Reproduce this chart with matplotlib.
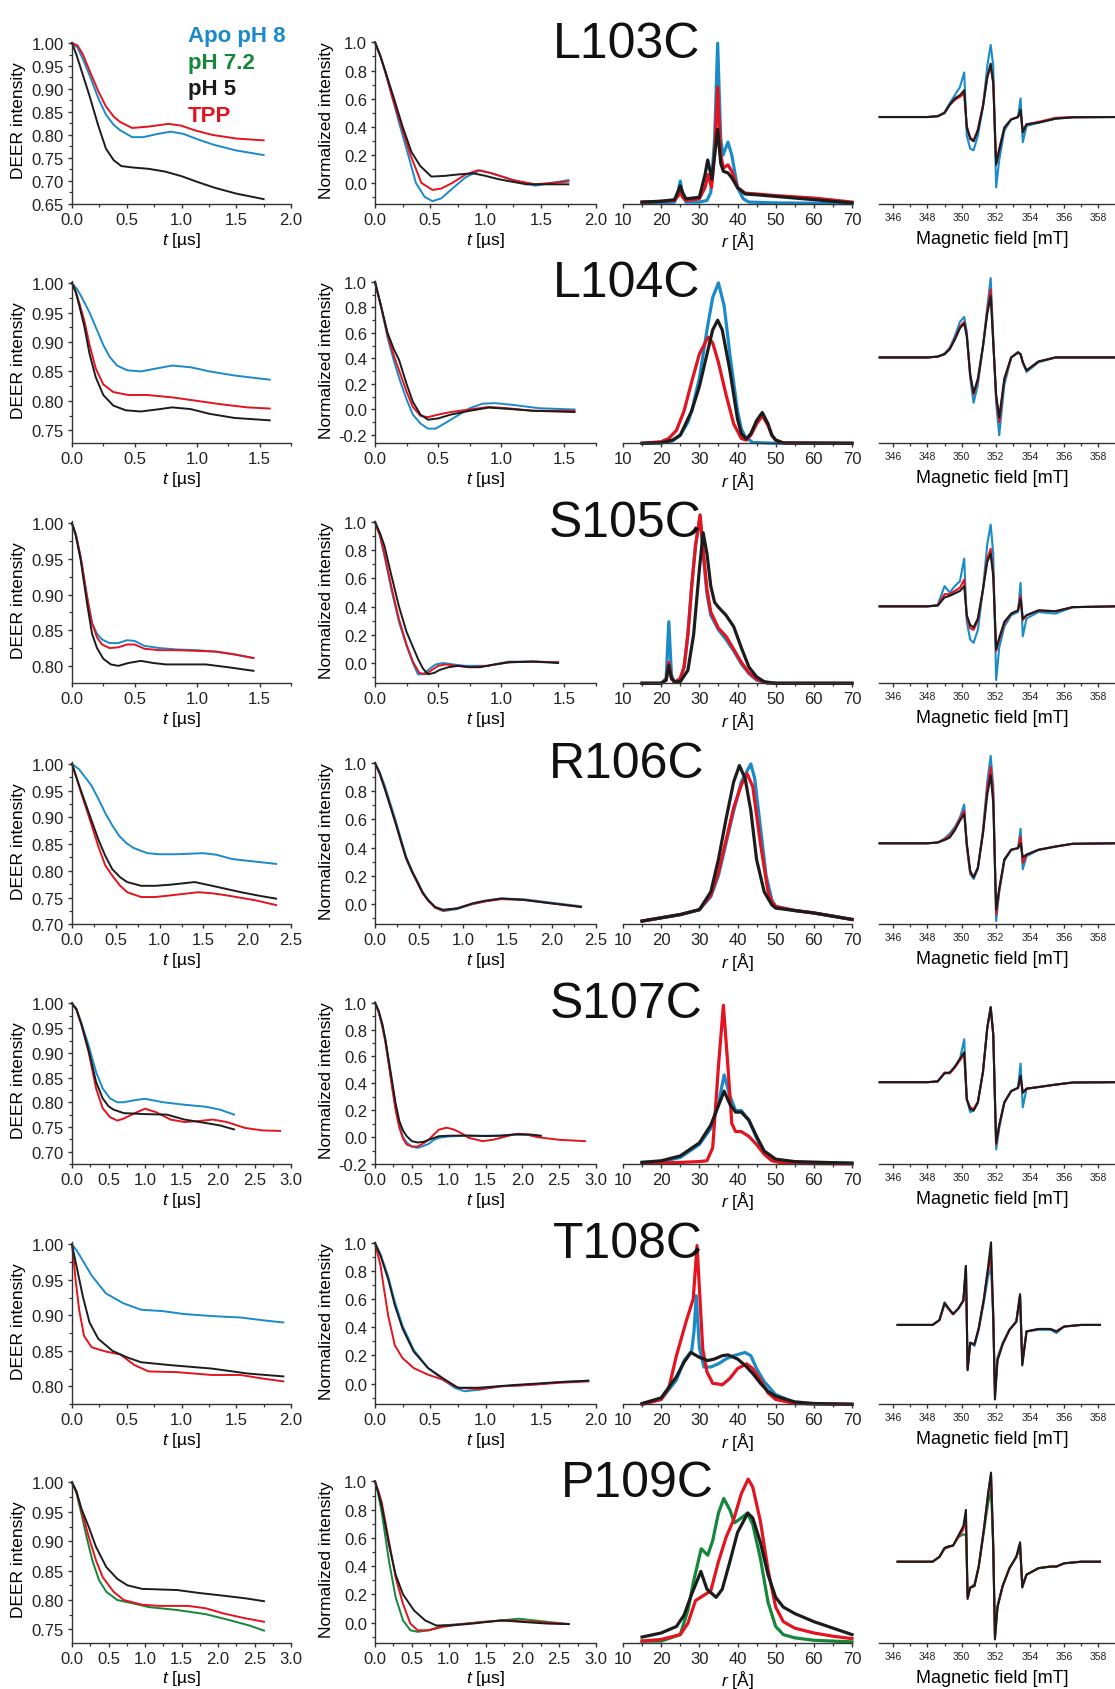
import matplotlib
matplotlib.use('Agg')
import matplotlib.pyplot as plt
from matplotlib.ticker import MultipleLocator, FormatStrFormatter

plt.rcParams['font.family'] = 'Liberation Sans'
plt.rcParams['mathtext.fontset'] = 'custom'
plt.rcParams['mathtext.rm'] = 'Liberation Sans'
plt.rcParams['mathtext.it'] = 'Liberation Sans:italic'
plt.rcParams['axes.unicode_minus'] = False

W, H = 1115, 1690
colors = {'apo': '#1a8bc8', 'ph72': '#14873a', 'ph5': '#1c1c1c', 'tpp': '#e3141f'}
draw_order = ['apo', 'ph72', 'tpp', 'ph5']

mutants = ['L103C', 'L104C', 'S105C', 'R106C', 'S107C', 'T108C', 'P109C']
title_left = [553, 553, 549, 549, 550, 553, 561]
row_tops = [42.7, 282.3, 522.3, 763.3, 1003.0, 1243.3, 1481.7]
t_max = [2.0, 1.75, 1.75, 2.5, 3.0, 2.0, 3.0]
deer_ymin = [0.65, 0.728, 0.7755, 0.70, 0.675, 0.7747, 0.7274]
norm_ymin = [-0.148, -0.265, -0.144, -0.143, -0.2, -0.148, -0.142]

# ---- primary DEER traces (t [us], intensity)
deer_l103c = {
    'apo': [(0, 1), (0.05, 0.99), (0.1, 0.965), (0.16, 0.93), (0.24, 0.88), (0.31, 0.844), (0.38, 0.822),
            (0.44, 0.81), (0.55, 0.795), (0.65, 0.795), (0.78, 0.802), (0.9, 0.807), (1.02, 0.802),
            (1.15, 0.79), (1.3, 0.778), (1.5, 0.766), (1.75, 0.756)],
    'tpp': [(0, 1), (0.05, 0.995), (0.1, 0.975), (0.16, 0.94), (0.24, 0.895), (0.31, 0.862), (0.38, 0.84),
            (0.44, 0.828), (0.55, 0.815), (0.7, 0.818), (0.88, 0.824), (1.0, 0.82), (1.12, 0.81),
            (1.28, 0.80), (1.5, 0.792), (1.75, 0.788)],
    'ph5': [(0, 1), (0.04, 0.975), (0.08, 0.945), (0.16, 0.885), (0.24, 0.82), (0.31, 0.77), (0.38, 0.745),
            (0.45, 0.732), (0.55, 0.729), (0.7, 0.726), (0.85, 0.72), (1.0, 0.71), (1.15, 0.697),
            (1.3, 0.685), (1.5, 0.672), (1.75, 0.66)],
}
deer_l104c = {
    'apo': [(0, 1), (0.04, 0.99), (0.08, 0.975), (0.14, 0.95), (0.2, 0.92), (0.25, 0.895), (0.3, 0.875),
            (0.36, 0.86), (0.44, 0.852), (0.55, 0.85), (0.7, 0.856), (0.8, 0.86), (0.95, 0.857),
            (1.1, 0.85), (1.3, 0.843), (1.58, 0.836)],
    'tpp': [(0, 1), (0.03, 0.985), (0.06, 0.965), (0.1, 0.935), (0.14, 0.895), (0.19, 0.855), (0.25, 0.828),
            (0.33, 0.815), (0.45, 0.81), (0.6, 0.81), (0.8, 0.806), (1.0, 0.80), (1.2, 0.794),
            (1.4, 0.789), (1.58, 0.787)],
    'ph5': [(0, 1), (0.03, 0.985), (0.06, 0.96), (0.1, 0.925), (0.14, 0.88), (0.19, 0.84), (0.25, 0.81),
            (0.33, 0.792), (0.43, 0.784), (0.55, 0.782), (0.7, 0.786), (0.8, 0.789), (0.95, 0.786),
            (1.1, 0.778), (1.3, 0.771), (1.58, 0.767)],
}
deer_s105c = {
    'apo': [(0, 1), (0.03, 0.985), (0.07, 0.952), (0.12, 0.897), (0.16, 0.86), (0.2, 0.845), (0.24, 0.837),
            (0.3, 0.832), (0.37, 0.832), (0.44, 0.836), (0.5, 0.835), (0.58, 0.828), (0.7, 0.825),
            (0.84, 0.823), (1.0, 0.822), (1.15, 0.82), (1.3, 0.816), (1.45, 0.811)],
    'tpp': [(0, 1), (0.03, 0.985), (0.07, 0.952), (0.12, 0.897), (0.16, 0.86), (0.2, 0.84), (0.24, 0.83),
            (0.3, 0.825), (0.37, 0.826), (0.44, 0.83), (0.5, 0.83), (0.58, 0.824), (0.7, 0.822),
            (0.84, 0.822), (1.0, 0.821), (1.15, 0.82), (1.3, 0.816), (1.45, 0.811)],
    'ph5': [(0, 1), (0.03, 0.983), (0.07, 0.948), (0.12, 0.888), (0.16, 0.845), (0.2, 0.825), (0.25, 0.81),
            (0.31, 0.802), (0.37, 0.80), (0.45, 0.804), (0.55, 0.807), (0.65, 0.804), (0.75, 0.802),
            (0.9, 0.802), (1.07, 0.802), (1.25, 0.798), (1.45, 0.793)],
}
deer_r106c = {
    'apo': [(0, 1), (0.08, 0.99), (0.15, 0.975), (0.22, 0.96), (0.3, 0.935), (0.38, 0.908), (0.46, 0.885),
            (0.54, 0.865), (0.62, 0.852), (0.7, 0.843), (0.86, 0.833), (1.0, 0.831), (1.18, 0.831),
            (1.5, 0.833), (1.65, 0.83), (1.83, 0.822), (2.05, 0.818), (2.33, 0.813)],
    'tpp': [(0, 1), (0.05, 0.975), (0.1, 0.948), (0.18, 0.908), (0.3, 0.846), (0.38, 0.81), (0.46, 0.791),
            (0.55, 0.772), (0.63, 0.76), (0.79, 0.751), (0.95, 0.751), (1.12, 0.754), (1.44, 0.76),
            (1.6, 0.758), (1.77, 0.754), (2.09, 0.745), (2.33, 0.736)],
    'ph5': [(0, 1), (0.05, 0.975), (0.1, 0.951), (0.18, 0.914), (0.3, 0.859), (0.38, 0.828), (0.46, 0.803),
            (0.55, 0.788), (0.63, 0.779), (0.79, 0.772), (0.95, 0.772), (1.12, 0.774), (1.4, 0.779),
            (1.6, 0.772), (1.93, 0.76), (2.15, 0.753), (2.33, 0.748)],
}
deer_s107c = {
    'apo': [(0, 1), (0.06, 0.99), (0.13, 0.96), (0.23, 0.914), (0.33, 0.861), (0.42, 0.828), (0.52, 0.808),
            (0.62, 0.80), (0.71, 0.80), (0.85, 0.804), (1.0, 0.807), (1.25, 0.80), (1.54, 0.795),
            (1.83, 0.791), (2.03, 0.785), (2.22, 0.775)],
    'tpp': [(0, 1), (0.06, 0.988), (0.13, 0.957), (0.23, 0.90), (0.33, 0.828), (0.42, 0.788), (0.52, 0.77),
            (0.62, 0.763), (0.71, 0.767), (0.86, 0.778), (1.0, 0.787), (1.15, 0.78), (1.35, 0.765),
            (1.54, 0.76), (1.74, 0.762), (1.93, 0.765), (2.12, 0.76), (2.37, 0.748), (2.61, 0.743),
            (2.85, 0.742)],
    'ph5': [(0, 1), (0.06, 0.988), (0.13, 0.957), (0.23, 0.904), (0.33, 0.841), (0.42, 0.808), (0.5, 0.792),
            (0.57, 0.785), (0.71, 0.778), (1.0, 0.776), (1.3, 0.775), (1.54, 0.765), (1.83, 0.758),
            (2.03, 0.753), (2.22, 0.745)],
}
deer_t108c = {
    'apo': [(0, 1), (0.04, 0.992), (0.08, 0.982), (0.18, 0.956), (0.31, 0.931), (0.47, 0.917), (0.63, 0.908),
            (0.83, 0.906), (1.02, 0.902), (1.28, 0.899), (1.54, 0.897), (1.75, 0.893), (1.93, 0.89)],
    'tpp': [(0, 1), (0.015, 0.98), (0.03, 0.954), (0.065, 0.908), (0.11, 0.871), (0.18, 0.855), (0.31, 0.849),
            (0.44, 0.845), (0.57, 0.83), (0.7, 0.821), (0.96, 0.82), (1.28, 0.816), (1.54, 0.816),
            (1.74, 0.811), (1.93, 0.807)],
    'ph5': [(0, 1), (0.02, 0.985), (0.05, 0.963), (0.1, 0.926), (0.16, 0.89), (0.24, 0.867), (0.37, 0.85),
            (0.5, 0.841), (0.63, 0.834), (0.89, 0.83), (1.28, 0.825), (1.61, 0.818), (1.93, 0.814)],
}
deer_p109c = {
    'ph72': [(0, 1), (0.06, 0.982), (0.13, 0.946), (0.2, 0.907), (0.28, 0.867), (0.37, 0.834), (0.47, 0.814),
             (0.62, 0.80), (0.81, 0.795), (1.05, 0.788), (1.44, 0.783), (1.83, 0.776), (2.12, 0.767),
             (2.42, 0.757), (2.63, 0.748)],
    'tpp': [(0, 1), (0.06, 0.985), (0.13, 0.952), (0.23, 0.907), (0.33, 0.867), (0.42, 0.839), (0.57, 0.814),
            (0.71, 0.80), (0.96, 0.792), (1.2, 0.79), (1.59, 0.79), (1.83, 0.786), (2.08, 0.777),
            (2.37, 0.769), (2.63, 0.763)],
    'ph5': [(0, 1), (0.06, 0.985), (0.13, 0.955), (0.23, 0.924), (0.33, 0.89), (0.47, 0.856), (0.62, 0.836),
            (0.76, 0.825), (0.96, 0.819), (1.2, 0.818), (1.44, 0.817), (1.74, 0.812), (2.03, 0.808),
            (2.37, 0.803), (2.63, 0.798)],
}

# ---- background-corrected form factors (t [us], normalized intensity)
norm_l103c = {
    'apo': [(0, 1), (0.05, 0.9), (0.1, 0.77), (0.16, 0.6), (0.21, 0.45), (0.3, 0.2), (0.37, 0.0), (0.45, -0.10),
            (0.52, -0.13), (0.6, -0.11), (0.7, -0.04), (0.82, 0.04), (0.95, 0.09), (1.05, 0.07), (1.25, 0.02),
            (1.45, -0.02), (1.75, 0.02)],
    'tpp': [(0, 1), (0.05, 0.9), (0.1, 0.77), (0.16, 0.6), (0.22, 0.45), (0.32, 0.2), (0.42, 0.0), (0.52, -0.05),
            (0.6, -0.04), (0.7, 0.0), (0.82, 0.06), (0.93, 0.09), (1.05, 0.07), (1.25, 0.02), (1.45, -0.01),
            (1.75, 0.01)],
    'ph5': [(0, 1), (0.05, 0.9), (0.1, 0.78), (0.18, 0.58), (0.25, 0.40), (0.33, 0.22), (0.41, 0.12), (0.51, 0.045),
            (0.63, 0.05), (0.75, 0.06), (0.89, 0.068), (1.0, 0.05), (1.12, 0.026), (1.37, -0.01), (1.55, -0.01),
            (1.75, -0.01)],
}
norm_l104c = {
    'apo': [(0, 1), (0.05, 0.8), (0.1, 0.56), (0.15, 0.38), (0.2, 0.22), (0.25, 0.08), (0.3, -0.04), (0.36, -0.11),
            (0.42, -0.15), (0.48, -0.15), (0.55, -0.11), (0.65, -0.05), (0.75, 0.01), (0.85, 0.045), (0.95, 0.05),
            (1.1, 0.035), (1.3, 0.01), (1.58, 0.0)],
    'tpp': [(0, 1), (0.05, 0.8), (0.1, 0.58), (0.15, 0.42), (0.2, 0.28), (0.25, 0.14), (0.3, 0.02), (0.36, -0.05),
            (0.42, -0.06), (0.5, -0.04), (0.6, -0.02), (0.75, 0.0), (0.9, 0.02), (1.05, 0.01), (1.25, -0.01),
            (1.58, -0.01)],
    'ph5': [(0, 1), (0.05, 0.8), (0.1, 0.6), (0.15, 0.47), (0.19, 0.39), (0.25, 0.2), (0.3, 0.06), (0.36, -0.04),
            (0.42, -0.08), (0.5, -0.07), (0.6, -0.04), (0.75, -0.01), (0.9, 0.015), (1.05, 0.005), (1.25, -0.01),
            (1.58, -0.02)],
}
norm_s105c = {
    'apo': [(0, 1), (0.04, 0.9), (0.075, 0.76), (0.13, 0.52), (0.19, 0.29), (0.25, 0.12), (0.3, 0.0), (0.34, -0.08),
            (0.38, -0.08), (0.42, -0.05), (0.48, -0.01), (0.54, 0.0), (0.62, -0.01), (0.71, -0.02), (0.89, -0.02),
            (1.06, 0.01), (1.25, 0.01), (1.45, 0.005)],
    'tpp': [(0, 1), (0.04, 0.9), (0.075, 0.77), (0.13, 0.54), (0.19, 0.31), (0.25, 0.13), (0.3, 0.01), (0.35, -0.07),
            (0.4, -0.08), (0.45, -0.05), (0.5, -0.02), (0.56, -0.01), (0.65, -0.02), (0.75, -0.03), (0.89, -0.02),
            (1.06, 0.005), (1.25, 0.01), (1.45, 0.005)],
    'ph5': [(0, 1), (0.04, 0.92), (0.075, 0.83), (0.13, 0.62), (0.19, 0.40), (0.25, 0.22), (0.34, 0.03), (0.38, -0.04),
            (0.42, -0.08), (0.47, -0.07), (0.51, -0.05), (0.58, -0.03), (0.66, -0.02), (0.75, -0.03), (0.83, -0.03),
            (0.95, -0.01), (1.06, 0.005), (1.25, 0.01), (1.45, 0.0)],
}
norm_r106c = {
    'apo': [(0, 1), (0.05, 0.94), (0.11, 0.84), (0.17, 0.72), (0.23, 0.6), (0.29, 0.47), (0.35, 0.34), (0.42, 0.235),
            (0.48, 0.16), (0.54, 0.085), (0.6, 0.03), (0.68, -0.025), (0.77, -0.05), (0.93, -0.035), (1.1, 0.0),
            (1.25, 0.02), (1.43, 0.04), (1.68, 0.035), (2.0, 0.01), (2.33, -0.015)],
    'tpp': [(0, 1), (0.05, 0.93), (0.11, 0.82), (0.17, 0.7), (0.23, 0.58), (0.29, 0.45), (0.35, 0.325), (0.42, 0.225),
            (0.48, 0.15), (0.54, 0.075), (0.6, 0.025), (0.68, -0.025), (0.77, -0.045), (0.93, -0.03), (1.1, 0.0),
            (1.25, 0.02), (1.43, 0.035), (1.68, 0.03), (2.0, 0.005), (2.33, -0.02)],
    'ph5': [(0, 1), (0.05, 0.93), (0.11, 0.82), (0.17, 0.7), (0.23, 0.58), (0.29, 0.455), (0.35, 0.33), (0.42, 0.23),
            (0.48, 0.157), (0.54, 0.08), (0.6, 0.03), (0.68, -0.02), (0.77, -0.04), (0.93, -0.03), (1.1, 0.005),
            (1.25, 0.025), (1.43, 0.04), (1.68, 0.03), (2.0, 0.005), (2.33, -0.02)],
}
norm_s107c = {
    'apo': [(0, 1), (0.05, 0.93), (0.1, 0.83), (0.14, 0.72), (0.19, 0.54), (0.24, 0.36), (0.28, 0.22), (0.33, 0.09),
            (0.38, 0.0), (0.43, -0.04), (0.5, -0.07), (0.58, -0.08), (0.66, -0.065), (0.73, -0.05), (0.8, -0.02),
            (0.87, -0.005), (1.0, 0.005), (1.22, 0.01), (1.5, 0.01), (1.71, 0.012), (1.9, 0.02), (2.1, 0.015),
            (2.25, 0.01)],
    'tpp': [(0, 1), (0.05, 0.93), (0.1, 0.82), (0.14, 0.71), (0.19, 0.53), (0.24, 0.34), (0.28, 0.2), (0.33, 0.07),
            (0.38, -0.01), (0.43, -0.055), (0.5, -0.07), (0.58, -0.07), (0.66, -0.045), (0.73, -0.02), (0.8, 0.02),
            (0.87, 0.056), (0.97, 0.07), (1.05, 0.06), (1.12, 0.044), (1.2, 0.02), (1.27, -0.005), (1.46, -0.03),
            (1.6, -0.02), (1.71, -0.005), (1.85, 0.015), (1.95, 0.025), (2.05, 0.02), (2.2, 0.0), (2.5, -0.02),
            (2.85, -0.03)],
    'ph5': [(0, 1), (0.05, 0.94), (0.1, 0.84), (0.14, 0.73), (0.19, 0.56), (0.24, 0.39), (0.28, 0.25), (0.33, 0.12),
            (0.38, 0.05), (0.43, 0.007), (0.5, -0.03), (0.58, -0.04), (0.66, -0.035), (0.73, -0.02), (0.87, 0.007),
            (1.0, 0.01), (1.22, 0.012), (1.5, 0.008), (1.71, 0.01), (1.9, 0.02), (2.1, 0.02), (2.25, 0.01)],
}
norm_t108c = {
    'apo': [(0, 1), (0.05, 0.92), (0.12, 0.76), (0.18, 0.58), (0.25, 0.41), (0.35, 0.24), (0.48, 0.11), (0.61, 0.03),
            (0.72, -0.03), (0.81, -0.055), (0.94, -0.045), (1.14, -0.02), (1.4, -0.01), (1.67, 0.01), (1.93, 0.02)],
    'tpp': [(0, 1), (0.05, 0.84), (0.08, 0.68), (0.12, 0.48), (0.18, 0.27), (0.25, 0.18), (0.35, 0.11), (0.48, 0.063),
            (0.61, 0.028), (0.75, -0.03), (0.94, -0.04), (1.14, -0.02), (1.4, -0.01), (1.67, 0.005), (1.93, 0.015)],
    'ph5': [(0, 1), (0.05, 0.91), (0.12, 0.74), (0.18, 0.555), (0.25, 0.39), (0.35, 0.227), (0.48, 0.11), (0.61, 0.04),
            (0.75, -0.03), (0.94, -0.03), (1.27, -0.01), (1.67, 0.01), (1.93, 0.02)],
}
norm_p109c = {
    'ph72': [(0, 1), (0.04, 0.92), (0.09, 0.785), (0.19, 0.435), (0.28, 0.18), (0.38, 0.016), (0.48, -0.054),
             (0.58, -0.065), (0.73, -0.054), (0.92, -0.02), (1.22, -0.007), (1.71, 0.016), (1.95, 0.028),
             (2.35, 0.005), (2.63, -0.01)],
    'tpp': [(0, 1), (0.04, 0.94), (0.09, 0.855), (0.19, 0.575), (0.28, 0.32), (0.38, 0.133), (0.48, -0.007),
            (0.58, -0.054), (0.73, -0.054), (0.92, -0.03), (1.12, -0.014), (1.46, 0.005), (1.81, 0.016),
            (2.2, 0.005), (2.63, -0.01)],
    'ph5': [(0, 1), (0.04, 0.93), (0.09, 0.83), (0.19, 0.55), (0.28, 0.34), (0.38, 0.2), (0.53, 0.086),
            (0.68, 0.016), (0.83, -0.02), (1.02, -0.02), (1.32, -0.007), (1.71, 0.016), (2.0, 0.005),
            (2.35, -0.007), (2.63, -0.01)],
}

# ---- distance distributions (r [A], relative height of panel)
dist_l103c = {
    'apo': [(15, 0.005), (20, 0.005), (23.5, 0.01), (24.5, 0.08), (25, 0.14), (25.6, 0.06), (26.5, 0.01), (30, 0.01),
            (32, 0.02), (33, 0.07), (34, 0.4), (34.8, 0.99), (35.6, 0.4), (36.2, 0.3), (37.5, 0.38), (38.5, 0.3),
            (40, 0.1), (41.5, 0.03), (43, 0.01), (50, 0.005), (60, 0.003), (70, 0.0)],
    'tpp': [(15, 0.01), (20, 0.015), (23.5, 0.02), (24.5, 0.05), (25, 0.08), (25.6, 0.04), (26.5, 0.02), (30, 0.03),
            (31.5, 0.1), (32.3, 0.18), (33.2, 0.1), (34, 0.3), (34.8, 0.72), (35.6, 0.3), (36.3, 0.22), (37.5, 0.24),
            (38.5, 0.2), (40, 0.1), (42, 0.065), (45, 0.06), (50, 0.05), (60, 0.035), (70, 0.01)],
    'ph5': [(15, 0.01), (20, 0.015), (23.5, 0.025), (24.5, 0.08), (25, 0.11), (25.6, 0.07), (26.5, 0.03), (30, 0.04),
            (31.5, 0.18), (32.2, 0.27), (33.3, 0.15), (34, 0.3), (34.8, 0.46), (35.6, 0.25), (36.3, 0.2), (37.5, 0.19),
            (38.5, 0.16), (40, 0.1), (42, 0.06), (45, 0.055), (50, 0.045), (60, 0.025), (70, 0.005)],
}
dist_l104c = {
    'apo': [(15, 0), (20, 0.002), (23, 0.015), (25, 0.05), (27, 0.13), (28, 0.2), (30, 0.4), (32, 0.7), (33.5, 0.9),
            (35, 0.99), (36.5, 0.85), (38, 0.55), (40, 0.2), (41, 0.09), (42, 0.04), (44, 0.005), (50, 0), (70, 0)],
    'tpp': [(15, 0), (20, 0.01), (22, 0.03), (24, 0.08), (26, 0.2), (28, 0.38), (30, 0.55), (32.3, 0.655), (33.5, 0.62),
            (35, 0.5), (37, 0.3), (39, 0.12), (41, 0.03), (42.3, 0.02), (43.5, 0.05), (45, 0.12), (46.5, 0.17),
            (48, 0.11), (49, 0.05), (50, 0.02), (52, 0.002), (70, 0)],
    'ph5': [(15, 0), (20, 0.003), (23, 0.02), (25, 0.05), (28, 0.2), (30, 0.35), (32, 0.55), (33.5, 0.7), (34.8, 0.76),
            (36, 0.7), (38, 0.45), (40, 0.15), (41, 0.06), (42.3, 0.027), (43.5, 0.06), (45, 0.14), (46.5, 0.19),
            (48, 0.12), (49, 0.05), (50, 0.02), (52, 0.002), (70, 0)],
}
dist_s105c = {
    'apo': [(15, 0), (20, 0.0), (21.3, 0.03), (22, 0.38), (22.7, 0.05), (23.5, 0.005), (25, 0.03), (26, 0.1), (27, 0.3),
            (28, 0.6), (29, 0.85), (30.2, 1.03), (31, 0.8), (32, 0.55), (33, 0.42), (35, 0.33), (37, 0.27), (39, 0.2),
            (41, 0.12), (43, 0.06), (45, 0.02), (48, 0.0), (70, 0)],
    'tpp': [(15, 0), (20, 0.0), (21.3, 0.02), (22, 0.13), (22.7, 0.03), (23.5, 0.005), (25, 0.03), (26, 0.1), (27, 0.3),
            (28, 0.6), (29, 0.85), (30.2, 1.04), (31, 0.82), (32, 0.58), (33, 0.44), (35, 0.34), (37, 0.29), (39, 0.21),
            (41, 0.13), (43, 0.065), (45, 0.025), (48, 0.0), (70, 0)],
    'ph5': [(15, 0), (20, 0.0), (21.3, 0.02), (22, 0.11), (22.7, 0.03), (23.5, 0.01), (25, 0.01), (27, 0.08),
            (28.5, 0.3), (30, 0.7), (31, 0.93), (32, 0.8), (33, 0.6), (34, 0.5), (35, 0.47), (37, 0.42), (39, 0.35),
            (41, 0.22), (43, 0.1), (45, 0.04), (47, 0.01), (50, 0), (70, 0)],
}
dist_r106c = {
    'apo': [(15, 0.02), (20, 0.04), (25, 0.06), (30, 0.09), (33, 0.17), (35, 0.3), (37, 0.5), (39, 0.7), (41, 0.88),
            (43.5, 0.99), (44.5, 0.9), (46, 0.6), (47.5, 0.3), (49, 0.15), (50, 0.11), (55, 0.085), (60, 0.07),
            (65, 0.05), (70, 0.03)],
    'tpp': [(15, 0.02), (20, 0.04), (25, 0.06), (30, 0.09), (33, 0.18), (35, 0.32), (37, 0.52), (39, 0.72), (41, 0.86),
            (42.5, 0.93), (44, 0.85), (46, 0.5), (48, 0.2), (49, 0.14), (50, 0.11), (55, 0.085), (60, 0.07),
            (65, 0.05), (70, 0.03)],
    'ph5': [(15, 0.02), (20, 0.04), (25, 0.06), (30, 0.09), (33, 0.2), (35, 0.4), (37, 0.65), (39, 0.88), (40.5, 0.98),
            (42, 0.9), (43.5, 0.7), (45, 0.4), (47, 0.2), (49, 0.12), (50, 0.1), (55, 0.085), (60, 0.07), (65, 0.05),
            (70, 0.03)],
}
dist_s107c = {
    'apo': [(15, 0.01), (20, 0.015), (25, 0.04), (30, 0.12), (33, 0.22), (35, 0.37), (36.5, 0.55), (38, 0.42),
            (39.5, 0.33), (41, 0.33), (43, 0.27), (45, 0.16), (47, 0.07), (50, 0.02), (55, 0.01), (70, 0.005)],
    'tpp': [(15, 0.005), (25, 0.01), (30, 0.015), (32, 0.02), (33.5, 0.1), (35, 0.6), (36.3, 0.98), (37.5, 0.6),
            (38.5, 0.25), (39.5, 0.2), (41, 0.2), (43, 0.17), (45, 0.12), (47, 0.06), (49, 0.02), (52, 0.005),
            (70, 0)],
    'ph5': [(15, 0.01), (20, 0.02), (25, 0.05), (30, 0.13), (33, 0.24), (35, 0.36), (36.5, 0.45), (38, 0.37),
            (39.5, 0.32), (41, 0.32), (43, 0.27), (45, 0.17), (47, 0.08), (50, 0.03), (55, 0.015), (70, 0.005)],
}
dist_t108c = {
    'apo': [(15, 0), (20, 0.03), (24, 0.15), (26, 0.27), (28, 0.33), (28.6, 0.45), (29.2, 0.67), (30, 0.35),
            (31.2, 0.23), (33, 0.23), (35, 0.25), (37, 0.28), (39, 0.3), (42, 0.32), (43.5, 0.3), (45, 0.22),
            (47, 0.14), (50, 0.06), (55, 0.01), (60, 0.0), (70, 0)],
    'tpp': [(15, 0), (20, 0.03), (22, 0.1), (24, 0.3), (26.6, 0.516), (28.4, 0.65), (29.4, 0.98), (30.9, 0.34),
            (32, 0.2), (33.5, 0.13), (35, 0.125), (36, 0.12), (38, 0.16), (40, 0.22), (42.4, 0.25), (44, 0.22),
            (46, 0.15), (48, 0.07), (50, 0.03), (55, 0.005), (70, 0)],
    'ph5': [(15, 0.005), (20, 0.04), (24, 0.17), (26, 0.26), (27.8, 0.32), (30, 0.29), (32.2, 0.27), (34, 0.28),
            (36, 0.3), (37.5, 0.305), (40, 0.28), (42, 0.24), (44, 0.19), (46, 0.13), (48, 0.08), (50, 0.05),
            (55, 0.015), (60, 0.005), (70, 0)],
}
dist_p109c = {
    'ph72': [(15, 0.01), (20, 0.01), (25, 0.05), (27, 0.2), (28.5, 0.38), (30.5, 0.58), (32.2, 0.54), (33.5, 0.63),
             (35, 0.8), (36.4, 0.89), (38, 0.82), (39.2, 0.74), (41, 0.77), (42.6, 0.80), (44, 0.73), (46, 0.52),
             (48, 0.25), (50, 0.1), (52, 0.05), (55, 0.03), (60, 0.015), (70, 0.005)],
    'tpp': [(15, 0.01), (20, 0.02), (25, 0.05), (27, 0.12), (29, 0.26), (31, 0.29), (33, 0.32), (35, 0.5), (37, 0.65),
            (39, 0.76), (41, 0.92), (42.8, 1.01), (44, 0.96), (46, 0.75), (48, 0.45), (50, 0.22), (52, 0.13),
            (55, 0.09), (60, 0.06), (65, 0.04), (70, 0.025)],
    'ph5': [(15, 0.035), (20, 0.06), (24, 0.1), (26, 0.17), (28, 0.3), (30.4, 0.44), (32, 0.33), (34.4, 0.28),
            (36, 0.33), (38, 0.5), (40, 0.68), (42.7, 0.80), (44, 0.77), (46, 0.62), (48, 0.42), (50, 0.28),
            (52, 0.22), (55, 0.18), (60, 0.13), (65, 0.09), (70, 0.05)],
}

# ---- cw EPR spectra (field [mT], relative height of panel)
field_a = [345.2, 348.0, 348.6, 349.0, 349.3, 349.6, 349.9, 350.15, 350.3, 350.5, 350.7, 350.95, 351.25, 351.5,
           351.7, 351.85, 352.02, 352.2, 352.5, 352.9, 353.3, 353.45, 353.58, 353.8, 354.5, 355.5, 356.5, 358.98]
field_b = [346.25, 348.3, 348.7, 349.0, 349.25, 349.5, 349.8, 350.1, 350.25, 350.35, 350.5, 350.75, 351.0, 351.3,
           351.55, 351.72, 351.85, 351.95, 352.1, 352.4, 352.8, 353.2, 353.42, 353.55, 353.8, 354.5, 355.2, 355.55,
           356.0, 357.0, 358.1]
epr_l103c = {
    'apo': [.535, .535, .54, .565, .62, .67, .72, .81, .42, .34, .33, .42, .60, .85, .98, .85, .10, .27, .45, .52,
            .535, .65, .38, .48, .50, .525, .533, .535],
    'tpp': [.535, .535, .54, .56, .61, .64, .66, .68, .48, .41, .39, .46, .61, .78, .85, .74, .25, .34, .47, .52,
            .535, .57, .45, .49, .505, .53, .535, .535],
    'ph5': [.535, .535, .54, .56, .61, .65, .67, .70, .47, .40, .385, .45, .60, .78, .865, .75, .24, .33, .47, .52,
            .535, .58, .44, .49, .50, .525, .533, .535],
}
epr_l104c = {
    'apo': [.53, .53, .535, .555, .59, .66, .75, .78, .69, .40, .25, .36, .60, .84, 1.02, .65, .25, .05, .36, .53,
            .565, .55, .50, .44, .50, .53, .53, .53],
    'tpp': [.53, .53, .535, .55, .585, .645, .72, .75, .67, .42, .30, .39, .60, .82, .95, .63, .28, .13, .39, .53,
            .56, .55, .50, .45, .505, .53, .53, .53],
    'ph5': [.53, .53, .535, .55, .58, .64, .71, .74, .66, .43, .31, .40, .60, .80, .91, .62, .30, .16, .40, .53,
            .56, .55, .50, .45, .505, .53, .53, .53],
}
epr_s105c = {
    'apo': [.475, .475, .485, .60, .56, .60, .63, .77, .38, .27, .25, .33, .58, .86, .98, .80, .02, .22, .35, .42,
            .44, .62, .29, .40, .44, .43, .47, .475],
    'tpp': [.475, .475, .48, .55, .55, .57, .59, .64, .41, .34, .33, .39, .58, .77, .83, .68, .20, .27, .37, .43,
            .45, .54, .39, .42, .45, .445, .47, .475],
    'ph5': [.475, .475, .48, .53, .54, .555, .57, .60, .42, .36, .345, .40, .58, .75, .80, .66, .21, .28, .38, .43,
            .45, .52, .40, .42, .45, .445, .47, .475],
}
epr_r106c = {
    'apo': [.50, .50, .505, .53, .56, .60, .66, .74, .48, .31, .28, .34, .58, .88, 1.04, .85, .02, .20, .39, .46,
            .47, .59, .34, .42, .46, .48, .497, .50],
    'tpp': [.50, .50, .505, .525, .545, .59, .65, .70, .49, .32, .29, .35, .57, .84, .97, .80, .06, .21, .40, .46,
            .47, .54, .38, .43, .46, .48, .497, .50],
    'ph5': [.50, .50, .505, .52, .535, .58, .64, .68, .50, .33, .29, .35, .56, .80, .92, .75, .09, .22, .40, .46,
            .47, .50, .415, .43, .46, .48, .497, .50],
}
epr_s107c = {
    'apo': [.505, .505, .51, .56, .56, .60, .65, .77, .40, .32, .33, .38, .57, .84, .97, .80, .09, .22, .38, .45,
            .47, .62, .35, .465, .475, .49, .503, .505],
    'tpp': [.505, .505, .51, .565, .56, .595, .64, .68, .40, .35, .34, .385, .57, .84, .965, .80, .12, .24, .38, .45,
            .47, .54, .44, .465, .475, .49, .503, .505],
    'ph5': [.505, .505, .51, .56, .565, .60, .65, .69, .40, .34, .33, .38, .57, .84, .967, .80, .13, .24, .38, .45,
            .47, .545, .44, .465, .475, .49, .503, .505],
}
epr_t108c = {
    'apo': [.49, .49, .52, .63, .59, .56, .59, .64, .85, .22, .38, .36, .46, .63, .79, .845, .52, .10, .29, .38,
            .46, .51, .67, .26, .45, .46, .46, .44, .48, .49, .49],
    'tpp': [.49, .49, .52, .62, .585, .555, .59, .64, .85, .22, .38, .37, .47, .65, .83, .91, .55, .05, .28, .37,
            .46, .51, .67, .25, .45, .465, .465, .45, .48, .49, .49],
    'ph5': [.49, .49, .52, .625, .59, .557, .59, .64, .855, .21, .38, .37, .47, .65, .85, 1.0, .55, .03, .27, .37,
            .46, .51, .68, .24, .45, .465, .465, .45, .48, .49, .49],
}
epr_p109c = {
    'ph72': [.50, .50, .53, .585, .595, .60, .65, .67, .66, .30, .34, .36, .47, .68, .86, .94, .58, .05, .23, .35,
             .46, .53, .58, .36, .42, .46, .47, .47, .49, .50, .50],
    'tpp': [.50, .50, .53, .58, .59, .60, .65, .70, .78, .28, .34, .35, .47, .70, .92, 1.04, .60, .03, .22, .35,
            .46, .53, .61, .35, .42, .46, .47, .47, .49, .50, .50],
    'ph5': [.50, .50, .53, .585, .595, .60, .66, .72, .82, .27, .34, .35, .47, .70, .92, 1.05, .60, .02, .22, .35,
            .46, .53, .62, .34, .42, .46, .47, .47, .49, .50, .50],
}

deer_rows = [deer_l103c, deer_l104c, deer_s105c, deer_r106c, deer_s107c, deer_t108c, deer_p109c]
norm_rows = [norm_l103c, norm_l104c, norm_s105c, norm_r106c, norm_s107c, norm_t108c, norm_p109c]
dist_rows = [dist_l103c, dist_l104c, dist_s105c, dist_r106c, dist_s107c, dist_t108c, dist_p109c]
epr_rows = [epr_l103c, epr_l104c, epr_s105c, epr_r106c, epr_s107c, epr_t108c, epr_p109c]
epr_fields = [field_a] * 5 + [field_b] * 2

legend_labels = [('Apo pH 8', 'apo'), ('pH 7.2', 'ph72'), ('pH 5', 'ph5'), ('TPP', 'tpp')]

fig = plt.figure(figsize=(W / 100, H / 100), dpi=100)


def add_ax(left, top, w, h):
    return fig.add_axes([left / W, 1 - (top + h) / H, w / W, h / H])


def ftext(x, y, s, **kw):
    return fig.text(x / W, 1 - y / H, s, **kw)


def style(ax, left=True, small=False):
    ax.patch.set_alpha(0)
    for s in ['top', 'right']:
        ax.spines[s].set_visible(False)
    for s in ['left', 'bottom']:
        ax.spines[s].set_linewidth(1.0)
        ax.spines[s].set_color('#333333')
    ax.tick_params(which='major', direction='out', length=3.2, width=1.0, color='#333333',
                   labelsize=7.5 if small else 12, pad=2.5, labelcolor='#222222')
    ax.tick_params(which='minor', direction='out', length=2.0, width=0.9, color='#333333')
    if not left:
        ax.spines['left'].set_visible(False)
        ax.tick_params(axis='y', which='both', left=False, labelleft=False)


def pairs_xy(pairs):
    return [p[0] for p in pairs], [p[1] for p in pairs]


H_AX = 162
for i, name in enumerate(mutants):
    top = row_tops[i]

    # column 1: primary DEER data
    ax = add_ax(72, top, 219, H_AX)
    style(ax)
    for key in draw_order:
        if key in deer_rows[i]:
            x, y = pairs_xy(deer_rows[i][key])
            ax.plot(x, y, color=colors[key], lw=1.4, clip_on=False)
    ax.set_xlim(0, t_max[i])
    ax.set_ylim(deer_ymin[i], 1.003)
    ax.xaxis.set_major_locator(MultipleLocator(0.5))
    ax.xaxis.set_minor_locator(MultipleLocator(0.25))
    ax.yaxis.set_major_locator(MultipleLocator(0.05))
    ax.yaxis.set_minor_locator(MultipleLocator(0.025))
    ax.xaxis.set_major_formatter(FormatStrFormatter('%.1f'))
    ax.yaxis.set_major_formatter(FormatStrFormatter('%.2f'))
    ftext(19, top + 78, 'DEER intensity', rotation=90, ha='center', va='center', fontsize=12.5)
    ftext(181, top + 197.3, '$t$ [µs]', ha='center', va='center', fontsize=12.5)

    # column 2: background-corrected form factor
    ax = add_ax(375, top, 221, H_AX)
    style(ax)
    for key in draw_order:
        if key in norm_rows[i]:
            x, y = pairs_xy(norm_rows[i][key])
            ax.plot(x, y, color=colors[key], lw=1.4, clip_on=False)
    ax.set_xlim(0, t_max[i])
    ax.set_ylim(norm_ymin[i], 1.005)
    ax.xaxis.set_major_locator(MultipleLocator(0.5))
    ax.xaxis.set_minor_locator(MultipleLocator(0.25))
    ax.yaxis.set_major_locator(MultipleLocator(0.2))
    ax.yaxis.set_minor_locator(MultipleLocator(0.1))
    ax.xaxis.set_major_formatter(FormatStrFormatter('%.1f'))
    ax.yaxis.set_major_formatter(FormatStrFormatter('%.1f'))
    ftext(326, top + 78, 'Normalized intensity', rotation=90, ha='center', va='center', fontsize=12.5)
    ftext(485, top + 197.3, '$t$ [µs]', ha='center', va='center', fontsize=12.5)

    # column 3: distance distribution
    ax = add_ax(623, top, 229, H_AX)
    style(ax, left=False)
    for key in draw_order:
        if key in dist_rows[i]:
            x, y = pairs_xy(dist_rows[i][key])
            ax.plot(x, y, color=colors[key], lw=2.3, clip_on=False, solid_joinstyle='round')
    ax.set_xlim(10, 70)
    ax.set_ylim(0, 1)
    ax.xaxis.set_major_locator(MultipleLocator(10))
    ax.xaxis.set_minor_locator(MultipleLocator(5))
    ax.xaxis.set_major_formatter(FormatStrFormatter('%d'))
    ftext(737, top + 198.5, '$r$ [Å]', ha='center', va='center', fontsize=12.5)

    # column 4: cw EPR spectrum
    ax = add_ax(879, top, 236, H_AX)
    style(ax, left=False, small=True)
    for key in draw_order:
        if key in epr_rows[i]:
            ax.plot(epr_fields[i], epr_rows[i][key], color=colors[key], lw=1.5, clip_on=False,
                    solid_joinstyle='round')
    ax.set_xlim(345.16, 358.98)
    ax.set_ylim(0, 1)
    ax.xaxis.set_major_locator(MultipleLocator(2))
    ax.xaxis.set_minor_locator(MultipleLocator(1))
    ax.xaxis.set_major_formatter(FormatStrFormatter('%d'))
    ftext(992, top + 196.5, 'Magnetic field [mT]', ha='center', va='center', fontsize=13)

    ftext(title_left[i], top + 15, name, fontsize=36, ha='left', va='baseline', color='#111111')

for j, (label, key) in enumerate(legend_labels):
    ftext(188, 36.6 + 26.5 * j, label, color=colors[key], fontsize=16, fontweight='bold',
          ha='left', va='center')

fig.savefig('out.png', dpi=100)
